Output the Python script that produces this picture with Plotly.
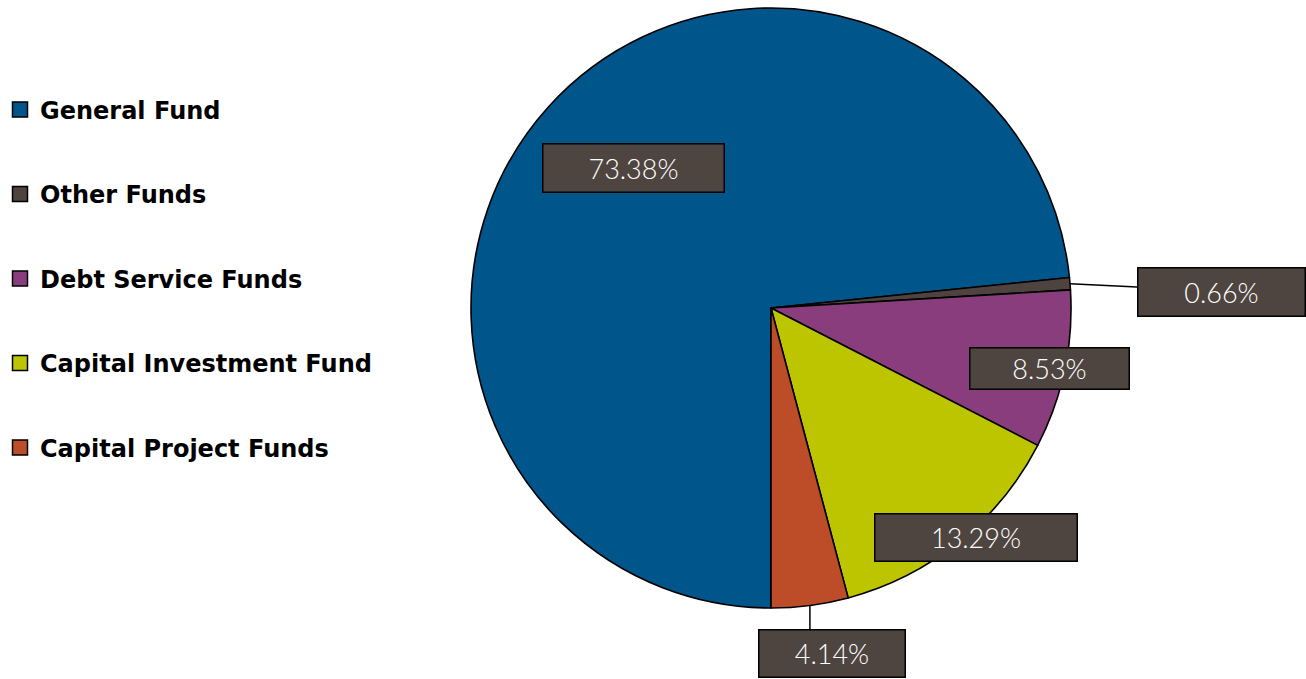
import math
import plotly.graph_objects as go

# ---- data ----
funds = ["General Fund", "Other Funds", "Debt Service Funds",
         "Capital Investment Fund", "Capital Project Funds"]
shares = [73.38, 0.66, 8.53, 13.29, 4.14]
colors = ["#00558A", "#4E433E", "#8A3D7C", "#BDC400", "#BD4D28"]

# ---- label styling (radius factor along slice mid-angle, pixel nudges, box sizes) ----
label_r = [0.66, 1.0, 0.95, 1.02, 1.0]
label_shift = [(9, 7), (151, -8), (0, -2), (13, 9), (22, -48)]
label_box = [(180, 47), (166, 47), (158, 40), (201, 46), (145, 46)]

W, H = 1306, 679
ML, MR, MT, MB = 471, 235, 8, 71
PW = W - ML - MR  # 600 px -> pie diameter
PH = H - MT - MB

fig = go.Figure()
fig.add_trace(go.Pie(
    labels=funds, values=shares, sort=False, direction="clockwise", rotation=180,
    marker=dict(colors=colors, line=dict(color="#000000", width=1.6)),
    textinfo="none", hoverinfo="label+percent", showlegend=False,
))

# legend entries (one group each so they can be spaced like the original)
for name, col in zip(funds, colors):
    fig.add_trace(go.Scatter(
        x=[None], y=[None], mode="markers", name=name, legendgroup=name,
        marker=dict(symbol="square", size=15, color=col,
                    line=dict(color="#000000", width=1.5)),
    ))

# slice mid-angles (degrees clockwise from 12 o'clock)
total = sum(shares)
start = 180.0
mids = []
for v in shares:
    span = 360.0 * v / total
    mids.append(start + span / 2)
    start += span

annotations = []
shapes = []
for i, (v, th, r) in enumerate(zip(shares, mids, label_r)):
    t = math.radians(th)
    x = 0.5 + 0.5 * r * math.sin(t)
    y = 0.5 + 0.5 * r * math.cos(t)
    dx, dy = label_shift[i]
    bw, bh = label_box[i]
    annotations.append(dict(
        x=x, y=y, xref="paper", yref="paper", xshift=dx, yshift=dy,
        xanchor="center", yanchor="middle",
        text=f"{v:.2f}%", showarrow=False,
        font=dict(family="Lato, 'Open Sans', sans-serif", size=27, color="#FFFFFF", weight=300),
        bgcolor="#4F4540", bordercolor="#000000", borderwidth=1.5, borderpad=0,
        width=bw, height=bh, align="center", valign="middle",
    ))
    if i in (1, 4):
        # leader line from the slice edge to the label box
        if i == 1:
            x1 = x + (dx - bw / 2 - 1) / PW
            y1 = y + (dy * 0.4) / PW
        else:
            x1 = x
            y1 = y + (dy + bh / 2 + 1) / PW
        shapes.append(dict(type="line", xref="paper", yref="paper",
                           x0=x, y0=y, x1=x1, y1=y1,
                           line=dict(color="#000000", width=1.5)))

fig.update_layout(
    width=W, height=H,
    margin=dict(l=ML, r=MR, t=MT, b=MB),
    paper_bgcolor="white", plot_bgcolor="white",
    xaxis=dict(visible=False), yaxis=dict(visible=False),
    showlegend=True,
    legend=dict(
        xref="container", yref="container", x=0, y=1 - 87.5 / H,
        xanchor="left", yanchor="top",
        traceorder="grouped", tracegroupgap=50.3, maxheight=560,
        font=dict(family="'DejaVu Sans', sans-serif", size=24, color="#000000", weight="bold"),
        itemwidth=30, bgcolor="rgba(0,0,0,0)",
    ),
    annotations=annotations,
    shapes=shapes,
)

fig.write_html("out.html")
